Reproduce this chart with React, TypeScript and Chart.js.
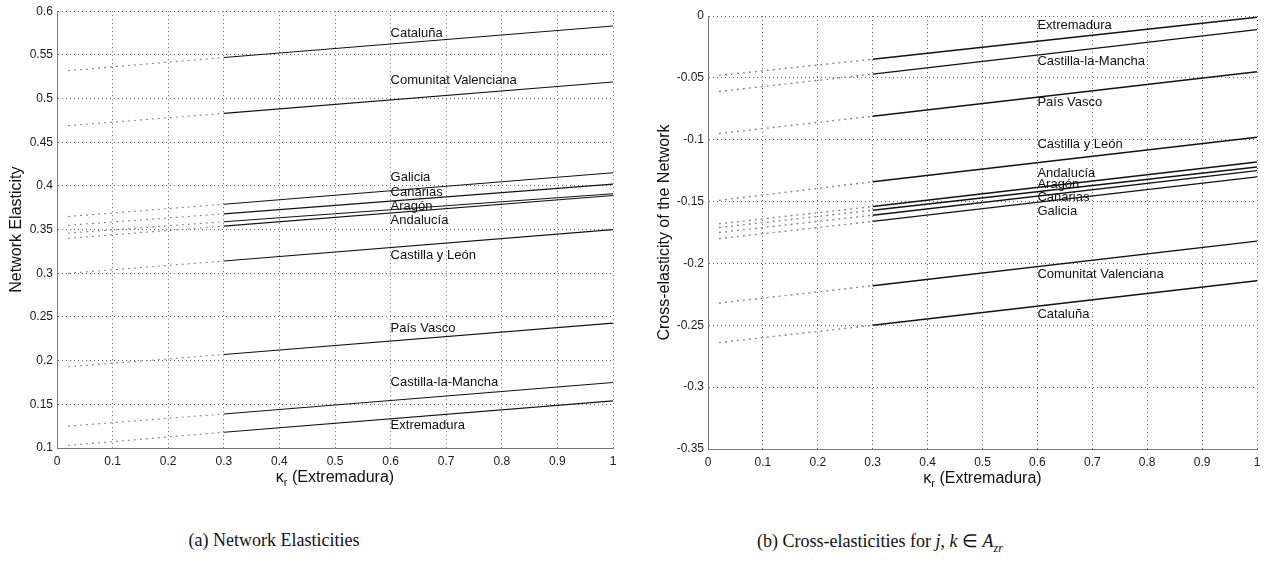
import React, { useEffect, useRef } from "react";
import { Chart, registerables } from "chart.js";

Chart.register(...registerables);

// ---------- shared x data ----------
const kappa = [0.02, 0.3, 1];
const xTickValues = [0, 0.1, 0.2, 0.3, 0.4, 0.5, 0.6, 0.7, 0.8, 0.9, 1];
const xTickLabels = ["0", "0.1", "0.2", "0.3", "0.4", "0.5", "0.6", "0.7", "0.8", "0.9", "1"];
const labelX = 0.6;

// ---------- (a) Network elasticities ----------
const regionsA = [
  "Cataluña",
  "Comunitat Valenciana",
  "Galicia",
  "Canarias",
  "Aragón",
  "Andalucía",
  "Castilla y León",
  "País Vasco",
  "Castilla-la-Mancha",
  "Extremadura",
];
const elastCataluna = [0.532, 0.547, 0.583];
const elastValenciana = [0.469, 0.483, 0.519];
const elastGalicia = [0.365, 0.379, 0.415];
const elastCanarias = [0.355, 0.368, 0.402];
const elastAragon = [0.346, 0.359, 0.391];
const elastAndalucia = [0.34, 0.354, 0.389];
const elastCastillaLeon = [0.3, 0.314, 0.35];
const elastPaisVasco = [0.193, 0.207, 0.243];
const elastCastillaMancha = [0.125, 0.139, 0.175];
const elastExtremadura = [0.103, 0.118, 0.154];
const labelYA = [0.575, 0.521, 0.41, 0.392, 0.377, 0.36, 0.32, 0.237, 0.175, 0.126];
const yTickValuesA = [0.1, 0.15, 0.2, 0.25, 0.3, 0.35, 0.4, 0.45, 0.5, 0.55, 0.6];
const yTickLabelsA = ["0.1", "0.15", "0.2", "0.25", "0.3", "0.35", "0.4", "0.45", "0.5", "0.55", "0.6"];

// ---------- (b) Cross-elasticities ----------
const regionsB = [
  "Extremadura",
  "Castilla-la-Mancha",
  "País Vasco",
  "Castilla y León",
  "Andalucía",
  "Aragón",
  "Canarias",
  "Galicia",
  "Comunitat Valenciana",
  "Cataluña",
];
const crossExtremadura = [-0.048, -0.035, -0.001];
const crossCastillaMancha = [-0.061, -0.047, -0.011];
const crossPaisVasco = [-0.095, -0.081, -0.045];
const crossCastillaLeon = [-0.149, -0.134, -0.098];
const crossAndalucia = [-0.168, -0.154, -0.118];
const crossAragon = [-0.171, -0.157, -0.122];
const crossCanarias = [-0.175, -0.161, -0.125];
const crossGalicia = [-0.18, -0.166, -0.13];
const crossValenciana = [-0.232, -0.218, -0.182];
const crossCataluna = [-0.264, -0.25, -0.214];
const labelYB = [-0.0073, -0.037, -0.07, -0.104, -0.127, -0.136, -0.147, -0.158, -0.209, -0.2415];
const yTickValuesB = [-0.35, -0.3, -0.25, -0.2, -0.15, -0.1, -0.05, 0];
const yTickLabelsB = ["-0.35", "-0.3", "-0.25", "-0.2", "-0.15", "-0.1", "-0.05", "0"];

const specA = {
  names: regionsA,
  values: [
    elastCataluna, elastValenciana, elastGalicia, elastCanarias, elastAragon,
    elastAndalucia, elastCastillaLeon, elastPaisVasco, elastCastillaMancha, elastExtremadura,
  ],
  labelY: labelYA,
  yMin: 0.1,
  yMax: 0.6,
  yTicks: yTickValuesA,
  yLabels: yTickLabelsA,
  yTitle: "Network Elasticity",
  width: 630,
  height: 500,
  axisLeft: 57,
  padRight: 17,
  padTop: 10,
  plotBottom: 448,
  yTitleX: 17,
  left: 0,
  lineWidth: 1.1,
};

const specB = {
  names: regionsB,
  values: [
    crossExtremadura, crossCastillaMancha, crossPaisVasco, crossCastillaLeon, crossAndalucia,
    crossAragon, crossCanarias, crossGalicia, crossValenciana, crossCataluna,
  ],
  labelY: labelYB,
  yMin: -0.35,
  yMax: 0,
  yTicks: yTickValuesB,
  yLabels: yTickLabelsB,
  yTitle: "Cross-elasticity of the Network",
  width: 639,
  height: 500,
  axisLeft: 78,
  padRight: 12,
  padTop: 16,
  plotBottom: 449,
  yTitleX: 35,
  left: 630,
  lineWidth: 1.4,
};

const SANS = "Arial, 'Liberation Sans', sans-serif";

function ChartPanel({ spec }: { spec: any }) {
  const ref = useRef<HTMLCanvasElement | null>(null);

  useEffect(() => {
    if (!ref.current) return;
    const annot = {
      id: "annot",
      afterDatasetsDraw(chart: any) {
        const { ctx, scales } = chart;
        ctx.save();
        ctx.fillStyle = "#111";
        ctx.font = `13px ${SANS}`;
        ctx.textAlign = "left";
        ctx.textBaseline = "middle";
        spec.names.forEach((n: string, i: number) => {
          ctx.fillText(n, scales.x.getPixelForValue(labelX), scales.y.getPixelForValue(spec.labelY[i]));
        });
        ctx.restore();
      },
      afterDraw(chart: any) {
        const { ctx, chartArea } = chart;
        ctx.save();
        ctx.fillStyle = "#111";
        ctx.font = `16px ${SANS}`;
        ctx.textAlign = "center";
        ctx.textBaseline = "middle";
        ctx.translate(spec.yTitleX, (chartArea.top + chartArea.bottom) / 2);
        ctx.rotate(-Math.PI / 2);
        ctx.fillText(spec.yTitle, 0, 0);
        ctx.restore();
        ctx.save();
        ctx.fillStyle = "#111";
        ctx.textBaseline = "alphabetic";
        ctx.textAlign = "left";
        const big = `16px ${SANS}`;
        const small = `11px ${SANS}`;
        const p1 = "κ";
        const p2 = "r";
        const p3 = " (Extremadura)";
        ctx.font = big;
        const w1 = ctx.measureText(p1).width;
        const w3 = ctx.measureText(p3).width;
        ctx.font = small;
        const w2 = ctx.measureText(p2).width;
        const total = w1 + w2 + w3;
        const cx = (chartArea.left + chartArea.right) / 2;
        let x = cx - total / 2;
        const base = chartArea.bottom + 34;
        ctx.font = big;
        ctx.fillText(p1, x, base);
        x += w1;
        ctx.font = small;
        ctx.fillText(p2, x, base + 4);
        x += w2;
        ctx.font = big;
        ctx.fillText(p3, x, base);
        ctx.restore();
      },
    };

    const chart = new Chart(ref.current, {
      type: "line",
      data: {
        datasets: spec.values.map((vals: number[], i: number) => ({
          label: spec.names[i],
          data: kappa.map((k, j) => ({ x: k, y: vals[j] })),
          borderColor: "#111",
          borderWidth: spec.lineWidth,
          pointRadius: 0,
          fill: false,
          tension: 0,
          segment: {
            borderDash: (c: any) => (c.p0DataIndex === 0 ? [2, 4] : undefined),
            borderColor: (c: any) => (c.p0DataIndex === 0 ? "#888" : undefined),
          },
        })),
      },
      options: {
        animation: false,
        responsive: false,
        maintainAspectRatio: false,
        layout: { padding: { left: 0, right: spec.padRight, top: spec.padTop, bottom: 0 } },
        plugins: { legend: { display: false }, tooltip: { enabled: false } },
        scales: {
          x: {
            type: "linear",
            min: 0,
            max: 1,
            afterBuildTicks: (s: any) => {
              s.ticks = xTickValues.map((v) => ({ value: v }));
            },
            afterFit: (s: any) => {
              s.height = spec.height - spec.plotBottom;
            },
            ticks: {
              autoSkip: false,
              maxRotation: 0,
              padding: 6,
              color: "#1a1a1a",
              font: { family: SANS, size: 12 },
              callback: (_v: any, i: number) => xTickLabels[i],
            },
            grid: { color: "#666", lineWidth: 1, drawTicks: false },
            border: { display: true, color: "#777", width: 1, dash: [1, 3] },
          },
          y: {
            type: "linear",
            min: spec.yMin,
            max: spec.yMax,
            afterBuildTicks: (s: any) => {
              s.ticks = spec.yTicks.map((v: number) => ({ value: v }));
            },
            afterFit: (s: any) => {
              s.width = spec.axisLeft;
            },
            ticks: {
              autoSkip: false,
              padding: 4,
              color: "#1a1a1a",
              font: { family: SANS, size: 12 },
              callback: (_v: any, i: number) => spec.yLabels[i],
            },
            grid: { color: "#666", lineWidth: 1, drawTicks: false },
            border: { display: true, color: "#777", width: 1, dash: [1, 3] },
          },
        },
      },
      plugins: [annot],
    } as any);
    return () => chart.destroy();
  }, [spec]);

  return (
    <canvas
      ref={ref}
      width={spec.width}
      height={spec.height}
      style={{ position: "absolute", left: spec.left, top: 0, width: spec.width, height: spec.height, display: "block" }}
    />
  );
}

export default function App() {
  const capStyle: React.CSSProperties = {
    position: "absolute",
    top: 530,
    fontFamily: "'Liberation Serif', 'Times New Roman', serif",
    fontSize: 18,
    color: "#111",
    whiteSpace: "nowrap",
    textAlign: "center",
  };
  return (
    <div style={{ position: "fixed", left: 0, top: 0, width: 1269, height: 570, background: "#fff", overflow: "hidden" }}>
      <ChartPanel spec={specA} />
      <ChartPanel spec={specB} />
      <div style={{ ...capStyle, left: 74, width: 400 }}>(a) Network Elasticities</div>
      <div style={{ ...capStyle, left: 680, width: 400 }}>
        (b) Cross-elasticities for <i>j</i>, <i>k</i> ∈ <i>A</i>
        <sub style={{ fontSize: 12 }}>
          <i>zr</i>
        </sub>
      </div>
    </div>
  );
}
